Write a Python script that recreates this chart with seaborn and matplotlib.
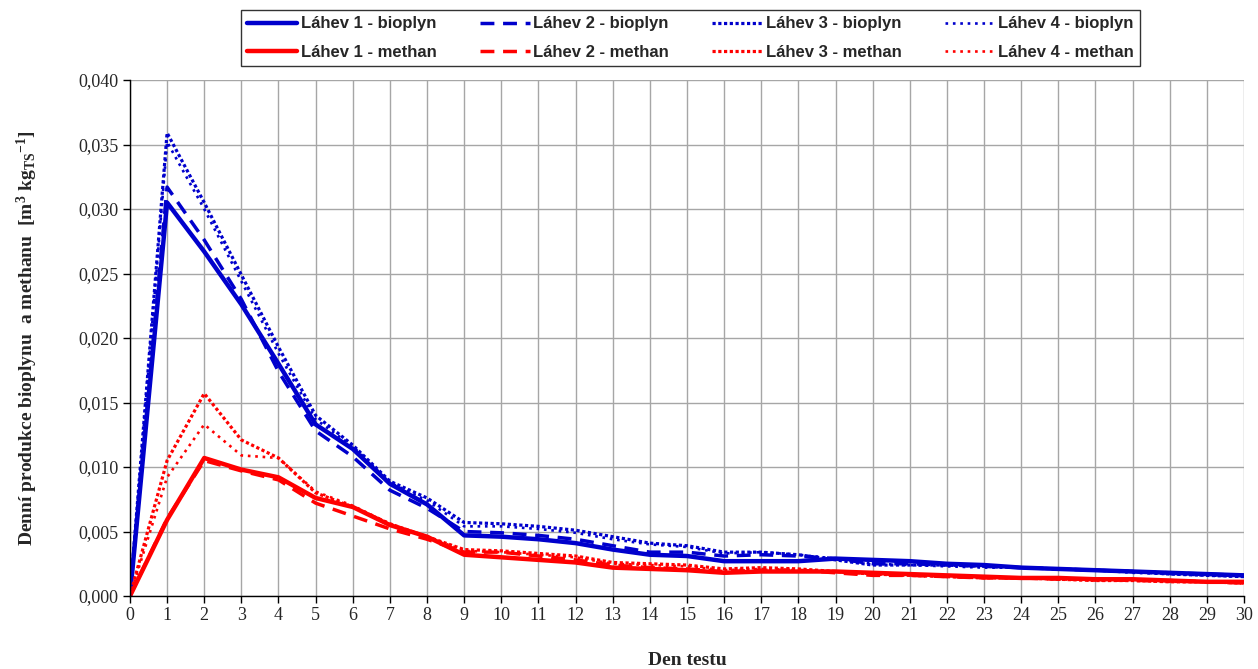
import numpy as np
import pandas as pd
import matplotlib
matplotlib.use("Agg")
import matplotlib.pyplot as plt
import seaborn as sns
from matplotlib.ticker import MultipleLocator, FuncFormatter

# dny testu
days = list(range(0, 31))

# bioplyn [m3 kgTS-1]
bio_1 = [0, 0.0305, 0.0267, 0.0226, 0.0180, 0.0133, 0.0114, 0.0087, 0.0071, 0.0047,
         0.0046, 0.0044, 0.0041, 0.0036, 0.0032, 0.0031, 0.0027, 0.0027, 0.0027, 0.0029,
         0.0028, 0.0027, 0.0025, 0.0024, 0.0022, 0.0021, 0.0020, 0.0019, 0.0018, 0.0017, 0.0016]
bio_2 = [0, 0.0317, 0.0276, 0.0230, 0.0174, 0.0128, 0.0108, 0.0082, 0.0068, 0.0050,
         0.0049, 0.0047, 0.0044, 0.0039, 0.0034, 0.0034, 0.0031, 0.0032, 0.0031, 0.0029,
         0.0025, 0.0025, 0.0024, 0.0023, 0.0022, 0.0021, 0.0020, 0.0019, 0.0018, 0.0017, 0.0016]
bio_3 = [0, 0.0359, 0.0305, 0.0249, 0.0193, 0.0140, 0.0117, 0.0089, 0.0076, 0.0057,
         0.0056, 0.0054, 0.0051, 0.0046, 0.0041, 0.0039, 0.0034, 0.0034, 0.0032, 0.0028,
         0.0024, 0.0024, 0.0024, 0.0023, 0.0022, 0.0021, 0.0020, 0.0019, 0.0017, 0.0016, 0.0015]
bio_4 = [0, 0.0352, 0.0300, 0.0244, 0.0188, 0.0137, 0.0116, 0.0088, 0.0074, 0.0054,
         0.0054, 0.0052, 0.0049, 0.0044, 0.0040, 0.0038, 0.0033, 0.0034, 0.0032, 0.0029,
         0.0025, 0.0024, 0.0023, 0.0022, 0.0022, 0.0021, 0.0020, 0.0018, 0.0017, 0.0016, 0.0015]

# methan [m3 kgTS-1]
met_1 = [0, 0.0059, 0.0107, 0.0098, 0.0092, 0.0076, 0.0069, 0.0055, 0.0046, 0.0032,
         0.0030, 0.0028, 0.0026, 0.0022, 0.0021, 0.0020, 0.0018, 0.0019, 0.0019, 0.0019,
         0.0018, 0.0017, 0.0016, 0.0015, 0.0014, 0.0014, 0.0013, 0.0013, 0.0012, 0.0011, 0.0011]
met_2 = [0, 0.0060, 0.0105, 0.0097, 0.0090, 0.0072, 0.0062, 0.0052, 0.0044, 0.0034,
         0.0034, 0.0031, 0.0028, 0.0024, 0.0022, 0.0021, 0.0019, 0.0020, 0.0020, 0.0018,
         0.0016, 0.0016, 0.0015, 0.0014, 0.0014, 0.0013, 0.0013, 0.0012, 0.0012, 0.0011, 0.0010]
met_3 = [0, 0.0105, 0.0157, 0.0121, 0.0107, 0.0080, 0.0069, 0.0056, 0.0046, 0.0036,
         0.0035, 0.0033, 0.0031, 0.0026, 0.0025, 0.0024, 0.0021, 0.0022, 0.0021, 0.0019,
         0.0017, 0.0016, 0.0015, 0.0014, 0.0014, 0.0013, 0.0012, 0.0012, 0.0011, 0.0011, 0.0010]
met_4 = [0, 0.0092, 0.0133, 0.0109, 0.0107, 0.0081, 0.0070, 0.0056, 0.0046, 0.0035,
         0.0034, 0.0032, 0.0030, 0.0025, 0.0024, 0.0023, 0.0020, 0.0021, 0.0020, 0.0019,
         0.0017, 0.0016, 0.0015, 0.0014, 0.0014, 0.0013, 0.0012, 0.0012, 0.0011, 0.0011, 0.0010]

labels_bio = ["Láhev 1 - bioplyn", "Láhev 2 - bioplyn", "Láhev 3 - bioplyn", "Láhev 4 - bioplyn"]
labels_met = ["Láhev 1 - methan", "Láhev 2 - methan", "Láhev 3 - methan", "Láhev 4 - methan"]

sns.set_theme(style="white")
plt.rcParams["font.family"] = ["Liberation Serif", "DejaVu Serif"]
plt.rcParams["mathtext.default"] = "regular"

fig = plt.figure(figsize=(12.58, 6.69), dpi=100)
ax = fig.add_axes([0.1033, 0.1091, 0.8856, 0.7713])

blue = "#0000CC"
red = "#FF0000"
styles = [
    dict(linestyle="-", linewidth=3.2),
    dict(linestyle=(0, (4, 2.5)), linewidth=2.5),
    dict(linestyle=(0, (1, 0.8)), linewidth=2.3),
    dict(linestyle=(0, (1, 1.8)), linewidth=1.9),
]

bio = [bio_1, bio_2, bio_3, bio_4]
met = [met_1, met_2, met_3, met_4]
for i in range(4):
    sns.lineplot(x=days, y=bio[i], ax=ax, color=blue, label=labels_bio[i], **styles[i])
    sns.lineplot(x=days, y=met[i], ax=ax, color=red, label=labels_met[i], **styles[i])

ax.set_xlim(0, 30)
ax.set_ylim(0, 0.040)
ax.xaxis.set_major_locator(MultipleLocator(1))
ax.yaxis.set_major_locator(MultipleLocator(0.005))
ax.yaxis.set_major_formatter(FuncFormatter(lambda v, p: f"{v:.3f}".replace(".", ",")))
ax.grid(True, color="#A6A6A6", linewidth=1.0)
ax.set_axisbelow(True)
for s in ["top", "right"]:
    ax.spines[s].set_visible(False)
for s in ["left", "bottom"]:
    ax.spines[s].set_color("black")
    ax.spines[s].set_linewidth(1.0)
ax.tick_params(axis="both", direction="out", length=5, width=1, color="black",
               labelsize=13, bottom=True, left=True, pad=3)

ax.set_xlabel("Den testu", fontsize=14, fontweight="bold", labelpad=20)
ax.set_ylabel("Denní produkce bioplynu  a methanu  [m$^{3}$ kg$_{TS}$$^{-1}$]",
              fontsize=14, fontweight="bold", labelpad=28)

h, l = ax.get_legend_handles_labels()
ax.get_legend().remove()
leg = fig.legend(h, l, ncol=4, loc="center", bbox_to_anchor=(0.549, 0.943),
                 frameon=True, fancybox=False, edgecolor="black", handlelength=3.0,
                 columnspacing=2.6, handletextpad=0.2, labelspacing=0.8,
                 borderpad=0.4, borderaxespad=0,
                 prop={"family": "Liberation Sans", "weight": "bold", "size": 12})
leg.get_frame().set_linewidth(1.0)

fig.savefig("out.png", dpi=100)
